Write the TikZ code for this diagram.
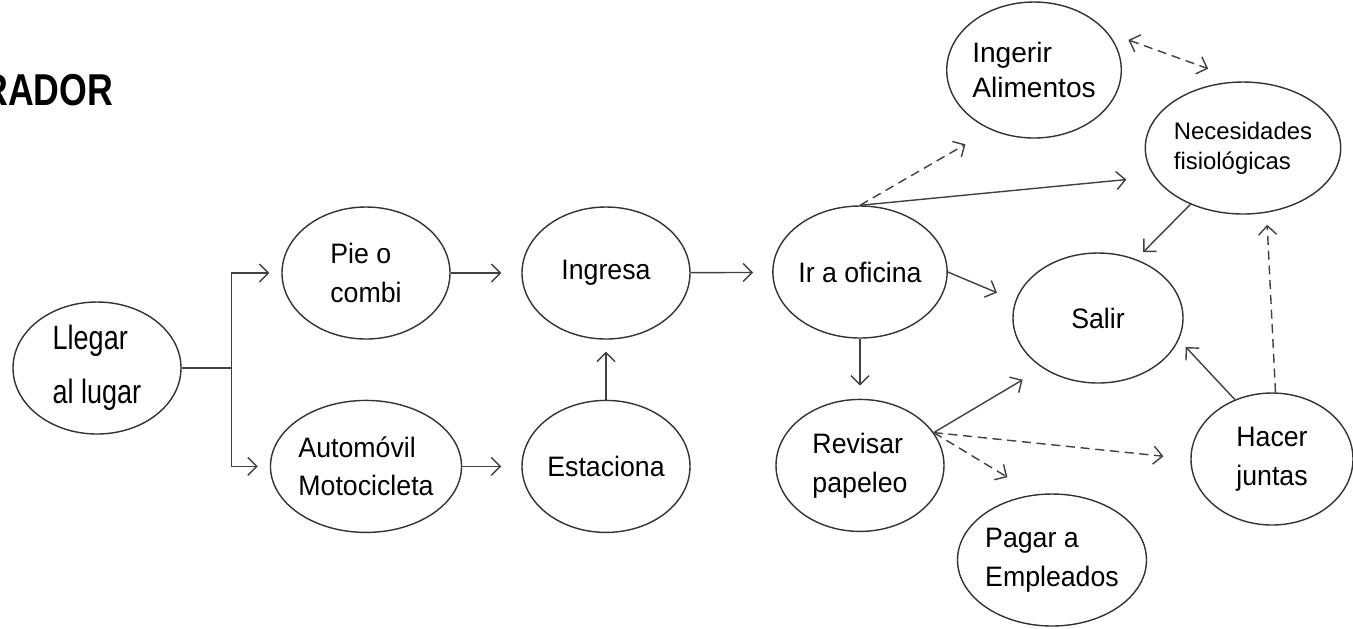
\documentclass[tikz,border=0pt]{standalone}
\usepackage{fontspec}
\setmainfont{Liberation Sans}[FakeStretch=0.95]
\newfontfamily\angosta{Liberation Sans}[FakeStretch=0.8]
\newfontfamily\ancha{Liberation Sans}
\usetikzlibrary{shapes.geometric, arrows.meta, positioning}

\begin{document}
\begin{tikzpicture}[
    estado/.style={draw=black!80,line width=0.4pt,ellipse,minimum width=1.68cm,minimum height=1.32cm,inner sep=0pt,align=left,font=\fontsize{8}{11}\selectfont},
    flecha/.style={-{Straight Barb[length=0.9mm,width=1.8mm]},draw=black!75,line width=0.4pt},
    punteada/.style={flecha,dash pattern=on 2.6pt off 1.6pt},
    titulo/.style={anchor=base east,inner sep=0pt,font=\angosta\bfseries\fontsize{12.7}{14}\selectfont}
  ]
    \useasboundingbox (0,0) rectangle (13.53,-6.28);
    \node[titulo] (titulo) at (1.14,-1.05) {RADOR};

    \node[estado,font=\angosta\fontsize{9.6}{15.5}\selectfont] (llegar) at (0.97,-3.68) {Llegar\\al lugar};
    \node[estado] (pie) at (3.66,-2.73) {Pie o\\combi};
    \node[estado, below=0.6cm of pie] (auto) {Automóvil\\Motocicleta};
    \node[estado] (ingresa) at (6.06,-2.73) {Ingresa};
    \node[estado, below=0.6cm of ingresa] (estaciona) {Estaciona};
    \node[estado] (oficina) at (8.60,-2.72) {Ir a oficina};
    \node[estado, below=0.6cm of oficina] (revisar) {Revisar\\papeleo};
    \node[estado,minimum width=1.7cm,minimum height=1.3cm] (salir) at (10.98,-3.18) {Salir};
    \node[estado,minimum height=1.36cm,font=\ancha\fontsize{8}{10}\selectfont] (ingerir) at (10.34,-0.70) {Ingerir\\Alimentos};
    \node[estado,minimum width=1.7cm,font=\ancha\fontsize{6.8}{8.5}\selectfont] (necesidades) at (12.43,-1.48) {Necesidades\\fisiológicas};
    \node[estado,minimum width=1.62cm] (juntas) at (12.72,-4.59) {Hacer\\juntas};
    \node[estado] (pagar) at (10.52,-5.60) {Pagar a\\Empleados};

    % llegada
    \draw[flecha, shorten >=1.2mm] (llegar.east) -- ++(0.5,0) coordinate (rama) |- (pie);
    \draw[flecha, shorten >=1.2mm] (rama) |- (auto);
    \draw[flecha, shorten >=2mm] (pie) -- (ingresa);
    \draw[flecha, shorten >=2mm] (auto) -- (estaciona);
    \draw[flecha, shorten >=1.2mm] (estaciona) -- (ingresa);
    \draw[flecha, shorten >=1.9mm] (ingresa) -- (oficina);

    % oficina
    \draw[flecha, shorten >=2mm] (oficina.east) -- (salir.168);
    \draw[flecha, shorten >=1.3mm] (oficina) -- (revisar);
    \draw[punteada, shorten >=2.9mm] (oficina.north) -- (ingerir.234);
    \draw[flecha, shorten >=2.8mm] (oficina.north) -- (necesidades.198);
    \draw[punteada, {Straight Barb[length=0.9mm,width=1.8mm]}-{Straight Barb[length=0.9mm,width=1.8mm]}, shorten <=2.2mm, shorten >=3.7mm] (ingerir.27) -- (necesidades.north);
    \draw[flecha, shorten >=1mm] (necesidades.227) -- (salir.57);

    % papeleo y juntas
    \draw[flecha, shorten >=2.3mm] (revisar.24) -- (salir.222);
    \draw[punteada, shorten >=2.7mm] (revisar.24) -- (juntas.west);
    \draw[punteada, shorten >=3.3mm] (revisar.24) -- (pagar.104);
    \draw[flecha, shorten >=1mm] (juntas.122) -- (salir.345);
    \draw[punteada, shorten >=1.2mm] (juntas.87) -- (necesidades.290);
  \end{tikzpicture}
\end{document}
